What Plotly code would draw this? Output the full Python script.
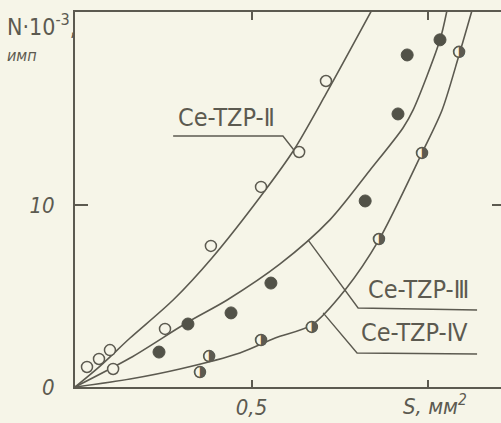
import plotly.graph_objects as go

# ---- data ----
# measured points (S, mm^2 ; N*10^-3)
s_II = [0.034, 0.068, 0.099, 0.108, 0.255, 0.385, 0.527, 0.635, 0.711]
n_II = [1.10, 1.54, 2.03, 0.99, 3.19, 7.75, 10.99, 12.91, 16.81]

s_III = [0.238, 0.320, 0.442, 0.555, 0.822, 0.915, 0.941, 1.034]
n_III = [1.92, 3.46, 4.07, 5.71, 10.22, 15.0, 18.24, 19.07]

s_IV = [0.354, 0.380, 0.527, 0.671, 0.861, 0.983, 1.088]
n_IV = [0.82, 1.70, 2.58, 3.30, 8.13, 12.86, 18.41]

# hand-drawn fitted curves
curve_II_s = [0, 0.071, 0.156, 0.278, 0.388, 0.533, 0.620, 0.711, 0.841]
curve_II_n = [0, 1.15, 2.69, 4.78, 7.09, 10.66, 13.02, 16.10, 20.71]

curve_III_s = [0, 0.156, 0.320, 0.431, 0.581, 0.722, 0.836, 0.929, 0.958, 1.034, 1.054]
curve_III_n = [0, 1.59, 3.57, 4.78, 6.76, 9.18, 11.92, 14.23, 15.22, 19.07, 20.71]

curve_IV_s = [0, 0.156, 0.297, 0.467, 0.567, 0.671, 0.765, 0.861, 0.983, 1.040, 1.088, 1.125]
curve_IV_n = [0, 0.44, 0.99, 1.87, 2.69, 3.41, 5.33, 8.08, 12.86, 15.22, 18.24, 20.71]

labels = ["Ce-TZP-Ⅱ", "Ce-TZP-Ⅲ", "Ce-TZP-Ⅳ"]
label_s = [0.428, 0.972, 0.963]
label_n = [14.78, 5.33, 3.02]
leader_s = [[0.278, 0.589, 0.620], [0.660, 0.802, 1.139], [0.703, 0.799, 1.139]]
leader_n = [[13.79, 13.79, 13.02], [8.08, 4.34, 4.23], [4.07, 1.87, 1.81]]

x_tickvals = [0.5, 1.0]
x_ticktext = ["0,5", ""]
y_tickvals = [0, 10]
y_ticktext = ["0", "10"]

# ---- style ----
BG = "#f6f5e8"
INK = "rgb(92,90,80)"
FONT = "DejaVu Sans Condensed, DejaVu Sans, sans-serif"

fig = go.Figure()

for cs, cn in [(curve_II_s, curve_II_n), (curve_III_s, curve_III_n), (curve_IV_s, curve_IV_n)]:
    fig.add_trace(go.Scatter(x=cs, y=cn, mode="lines",
                             line=dict(color=INK, width=1.6, shape="spline", smoothing=0.8),
                             hoverinfo="skip", showlegend=False))

for ls, ln in zip(leader_s, leader_n):
    fig.add_trace(go.Scatter(x=ls, y=ln, mode="lines",
                             line=dict(color=INK, width=1.4),
                             hoverinfo="skip", showlegend=False))

fig.add_trace(go.Scatter(x=s_II, y=n_II, mode="markers",
                         marker=dict(symbol="circle", size=11, color=BG,
                                     line=dict(color=INK, width=1.5)),
                         showlegend=False))
fig.add_trace(go.Scatter(x=s_III, y=n_III, mode="markers",
                         marker=dict(symbol="circle", size=12, color="rgb(82,82,72)",
                                     line=dict(color="rgb(82,82,72)", width=1)),
                         showlegend=False))
fig.add_trace(go.Scatter(x=s_IV, y=n_IV, mode="markers",
                         marker=dict(symbol="circle", size=11, color=BG,
                                     line=dict(color=INK, width=1.5)),
                         showlegend=False))
fig.add_trace(go.Scatter(x=s_IV, y=n_IV, mode="text", text=["◑"] * len(s_IV),
                         textfont=dict(family="DejaVu Sans", size=15, color=INK),
                         textposition="middle center", showlegend=False))

# invisible trace for the mirrored axes
fig.add_trace(go.Scatter(x=[0], y=[0], xaxis="x2", yaxis="y2", mode="markers",
                         marker=dict(opacity=0), showlegend=False, hoverinfo="skip"))

for txt, xs, yn in zip(labels, label_s, label_n):
    fig.add_annotation(x=xs, y=yn, text=txt, showarrow=False,
                       font=dict(family=FONT, size=25, color=INK))

fig.add_annotation(xref="x", yref="paper", x=1.02, y=0, yshift=-2, yanchor="top",
                   text="S, мм<sup>2</sup>", showarrow=False,
                   font=dict(family=FONT, size=22, color=INK, style="italic"))
fig.add_annotation(xref="paper", yref="paper", x=-0.165, y=1.012, xanchor="left",
                   text="N·10<sup>-3</sup>,", showarrow=False,
                   font=dict(family=FONT, size=23, color=INK))
fig.add_annotation(xref="paper", yref="paper", x=-0.165, y=0.915, xanchor="left",
                   text="имп", showarrow=False,
                   font=dict(family=FONT, size=16, color=INK, style="italic"))

axis_common = dict(showgrid=False, zeroline=False, linecolor=INK, linewidth=2,
                   tickcolor=INK, tickwidth=1.5, ticks="inside",
                   tickfont=dict(family=FONT, size=22, color=INK, style="italic"))

fig.update_layout(
    width=501, height=423,
    margin=dict(l=75, r=0, t=12, b=36),
    paper_bgcolor=BG, plot_bgcolor=BG,
    xaxis=dict(range=[0, 1.2068], showline=True, tickvals=x_tickvals, ticktext=x_ticktext,
               ticklen=7, ticklabelstandoff=0, **axis_common),
    yaxis=dict(range=[0, 20.6], showline=True, tickvals=y_tickvals, ticktext=y_ticktext,
               ticklen=13, ticklabelstandoff=14, **axis_common),
    xaxis2=dict(overlaying="x", side="top", matches="x", anchor="y2", showline=True,
                tickvals=x_tickvals, showticklabels=False, ticklen=8, **axis_common),
    yaxis2=dict(overlaying="y", side="right", matches="y", anchor="x2", showline=False,
                tickvals=[10], showticklabels=False, ticklen=9, **axis_common),
)

fig.write_html("out.html", config={"displayModeBar": False},
               post_script="document.body.style.margin='0';"
                           "document.body.style.background='" + BG + "';")
